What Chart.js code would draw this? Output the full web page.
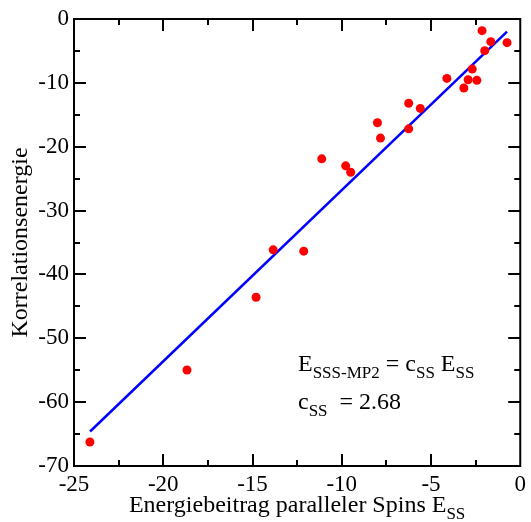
<!DOCTYPE html>
<html lang="de">
<head>
  <meta charset="UTF-8">
  <title>SSS-MP2 Korrelationsenergie</title>
  <script src="https://cdn.jsdelivr.net/npm/chart.js"></script>
  <style>
    body { margin: 0; background: #fff; }
    #chart { display: block; }
  </style>
</head>
<body>
  <canvas id="chart" width="531" height="522"></canvas>

  <script>
    // Energiebeitrag paralleler Spins E_SS (x) vs. Korrelationsenergie (y)
    const essValues = [-24.11, -18.67, -14.80, -13.84, -12.13, -11.12, -9.78, -9.50, -8.00, -7.83,
                       -6.25, -6.25, -5.60, -4.11, -3.16, -2.92, -2.69, -2.43, -2.14, -1.99, -1.65, -0.74];
    const corrValues = [-66.25, -54.97, -43.57, -36.15, -36.36, -21.90, -23.00, -24.00, -16.25, -18.65,
                        -13.20, -17.20, -14.00, -9.30, -10.80, -9.51, -7.84, -9.61, -1.83, -4.96, -3.55, -3.71];

    // fit line E_SSS-MP2 = c_SS * E_SS, endpoints
    const fitX = [-24.10, -0.74];
    const fitY = [-64.60, -1.98];

    const xTicks = [-25, -20, -15, -10, -5, 0];
    const yTicks = [0, -10, -20, -30, -40, -50, -60, -70];

    const serif = '"Liberation Serif", "DejaVu Serif", serif';

    // draws a run of [text, isSub] pieces, returns end x
    function drawPieces(ctx, pieces, x, y, big, small) {
      pieces.forEach(([txt, sub]) => {
        ctx.font = (sub ? small : big) + 'px ' + serif;
        ctx.fillText(txt, x, sub ? y + 7 : y);
        x += ctx.measureText(txt).width;
      });
      return x;
    }

    function piecesWidth(ctx, pieces, big, small) {
      let w = 0;
      pieces.forEach(([txt, sub]) => {
        ctx.font = (sub ? small : big) + 'px ' + serif;
        w += ctx.measureText(txt).width;
      });
      return w;
    }

    const framePlugin = {
      id: 'frame',
      afterDraw(chart) {
        const ctx = chart.ctx;
        const a = chart.chartArea;
        const xs = chart.scales.x, ys = chart.scales.y;
        ctx.save();
        ctx.strokeStyle = '#000';
        ctx.lineWidth = 2;
        ctx.strokeRect(a.left, a.top, a.right - a.left, a.bottom - a.top);

        // inward ticks on all four sides, major + minor
        ctx.beginPath();
        xs.ticks.forEach(t => {
          [[t.value, 12], [t.value + 2.5, 6]].forEach(([v, len]) => {
            if (v <= xs.min || v >= xs.max) return;
            const px = Math.round(xs.getPixelForValue(v));
            ctx.moveTo(px, a.bottom); ctx.lineTo(px, a.bottom - len);
            ctx.moveTo(px, a.top); ctx.lineTo(px, a.top + len);
          });
        });
        ys.ticks.forEach(t => {
          [[t.value, 12], [t.value + 5, 6]].forEach(([v, len]) => {
            if (v <= ys.min || v >= ys.max) return;
            const py = Math.round(ys.getPixelForValue(v));
            ctx.moveTo(a.left, py); ctx.lineTo(a.left + len, py);
            ctx.moveTo(a.right, py); ctx.lineTo(a.right - len, py);
          });
        });
        ctx.stroke();

        // x axis title with subscript
        ctx.fillStyle = '#000';
        ctx.textBaseline = 'alphabetic';
        ctx.textAlign = 'left';
        const xTitle = [['Energiebeitrag paralleler Spins E', false], ['SS', true]];
        const w = piecesWidth(ctx, xTitle, 24, 17);
        drawPieces(ctx, xTitle, (a.left + a.right) / 2 - w / 2, 512, 24, 17);

        // formula annotation
        drawPieces(ctx, [['E', false], ['SSS-MP2', true], [' = c', false], ['SS', true], [' E', false], ['SS', true]],
                   298, 371, 24, 17);
        drawPieces(ctx, [['c', false], ['SS', true], ['  = 2.68', false]], 298, 409, 24, 17);
        ctx.restore();
      }
    };

    const ctx = document.getElementById('chart').getContext('2d');
    new Chart(ctx, {
      type: 'scatter',
      data: {
        datasets: [
          {
            label: 'SSS-MP2',
            data: essValues.map((x, i) => ({ x, y: corrValues[i] })),
            backgroundColor: '#ff0000',
            borderWidth: 0,
            pointRadius: 4.5
          },
          {
            type: 'line',
            label: 'Fit',
            data: fitX.map((x, i) => ({ x, y: fitY[i] })),
            borderColor: '#0000ff',
            borderWidth: 2.5,
            pointRadius: 0,
            fill: false
          }
        ]
      },
      options: {
        responsive: false,
        animation: false,
        devicePixelRatio: 1,
        layout: { padding: { top: 19, right: 9, left: 0, bottom: 0 } },
        plugins: { legend: { display: false }, tooltip: { enabled: false } },
        scales: {
          x: {
            type: 'linear', min: -25, max: 0,
            afterBuildTicks: s => { s.ticks = xTicks.map(v => ({ value: v })); },
            afterFit: s => { s.height = 56; },
            grid: { display: false, drawTicks: false },
            border: { display: false },
            ticks: { color: '#000', padding: 5, maxRotation: 0, font: { family: serif, size: 23 } }
          },
          y: {
            type: 'linear', min: -70, max: 0,
            afterBuildTicks: s => { s.ticks = yTicks.map(v => ({ value: v })); },
            afterFit: s => { s.width = 74; },
            grid: { display: false, drawTicks: false },
            border: { display: false },
            ticks: { color: '#000', padding: 5, font: { family: serif, size: 23 } },
            title: { display: true, text: 'Korrelationsenergie', color: '#000', padding: { top: 6, bottom: 0 },
                     font: { family: serif, size: 24 } }
          }
        }
      },
      plugins: [framePlugin]
    });
  </script>
</body>
</html>
